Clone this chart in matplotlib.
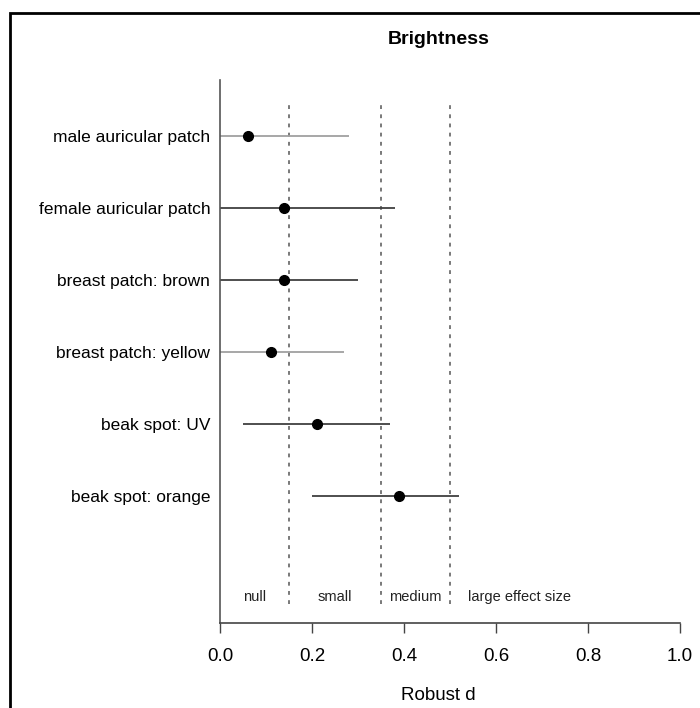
import matplotlib.pyplot as plt
from matplotlib.patches import Rectangle

plt.rcParams['font.family'] = ['Liberation Sans', 'DejaVu Sans']

labels = ['male auricular patch', 'female auricular patch', 'breast patch: brown',
          'breast patch: yellow', 'beak spot: UV', 'beak spot: orange']
d = [0.06, 0.14, 0.14, 0.11, 0.21, 0.39]
lo = [0.0, 0.0, 0.0, 0.0, 0.05, 0.20]
hi = [0.28, 0.38, 0.30, 0.27, 0.37, 0.52]
# grey CI lines for the two that are drawn lighter
line_col = ['#a0a0a0', '#404040', '#404040', '#a0a0a0', '#404040', '#404040']
cuts = [0.15, 0.35, 0.5]
zone_names = ['null', 'small', 'medium', 'large effect size']
zone_x = [0.075, 0.25, 0.425, 0.65]

fig = plt.figure(figsize=(7, 7.08), dpi=100)
ax = fig.add_axes([220/700, 85/708, 460/700, 543/708])

ys = list(range(len(labels), 0, -1))
for y, m, a, b, c in zip(ys, d, lo, hi, line_col):
    ax.plot([a, b], [y, y], color=c, lw=1.3, solid_capstyle='butt', zorder=2)
    ax.plot(m, y, 'o', color='black', ms=7, zorder=3)

for c in cuts:
    ax.plot([c, c], [-0.5, 6.5], color='#555555', lw=1.1, ls=(0, (2.5, 3.5)), zorder=1)
for t, x in zip(zone_names, zone_x):
    ax.text(x, -0.41, t, ha='center', va='center', fontsize=10.5, color='#222222')

ax.set_xlim(0, 1)
ax.set_ylim(-0.77, 6.78)
ax.set_xticks([0, 0.2, 0.4, 0.6, 0.8, 1.0])
ax.set_xticklabels(['0.0', '0.2', '0.4', '0.6', '0.8', '1.0'], fontsize=13.5)
ax.set_yticks(ys)
ax.set_yticklabels(labels, fontsize=12.5)
ax.tick_params(axis='y', length=0, pad=7)
ax.tick_params(axis='x', length=7.5, width=1, color='#444444', pad=10.5)
ax.spines['top'].set_visible(False)
ax.spines['right'].set_visible(False)
ax.spines['left'].set_color('#555555')
ax.spines['bottom'].set_color('#444444')
ax.spines['left'].set_linewidth(1.2)
ax.spines['bottom'].set_linewidth(1.2)

fig.text(438/700, 1 - 696/708, 'Robust d', ha='center', va='center', fontsize=13.5)
fig.text(439/700, 1 - 39/708, 'Brightness', ha='center', va='center',
         fontsize=14, fontweight='bold')

fig.patches.append(Rectangle((10/700, -0.1), 1.0, 1 - 13/708 + 0.1,
                             transform=fig.transFigure, fill=False,
                             edgecolor='black', lw=2, zorder=10))

fig.savefig('out.png', dpi=100)
